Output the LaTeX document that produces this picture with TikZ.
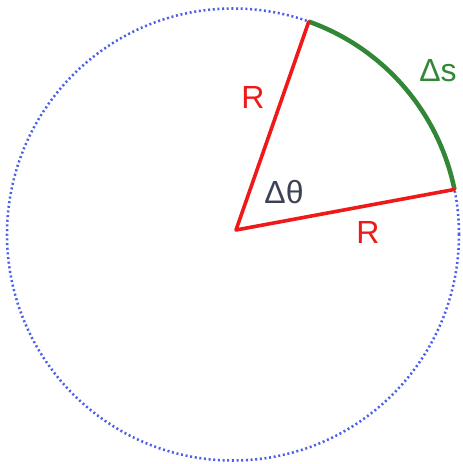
\documentclass[tikz,border=0pt]{standalone}
\usepackage{fontspec}
\setmainfont{Liberation Sans}
\usetikzlibrary{calc}
\definecolor{circblue}{RGB}{75,95,235}
\definecolor{radred}{RGB}{240,25,25}
\definecolor{arcgreen}{RGB}{50,135,55}
\definecolor{anglegray}{RGB}{60,65,85}

\begin{document}
\begin{tikzpicture}[x=0.75pt, y=0.75pt,
  rim/.style={circblue, line width=1.9pt, dash pattern=on 1.5pt off 2.0pt},
  radline/.style={radred, line width=2.7pt, line cap=round, line join=round},
  arcline/.style={arcgreen, line width=3.4pt},
  lbl/.style={font=\fontsize{24}{28}\selectfont, inner sep=0pt}
]
\useasboundingbox (0,0) rectangle (462,464);

% circle and its points
\coordinate (c) at (233,229.5);
\coordinate (o) at (236,234);
\coordinate (a) at ($(c)+(70.4:226)$);
\coordinate (b) at ($(c)+(11.5:226)$);
\draw[rim] (c) circle[radius=226];

% arc and radii
\draw[arcline] (a) arc[start angle=70.4, end angle=11.5, radius=226];
\draw[radline] (a) -- (o) -- (b);

% labels
\node[lbl, radred] (r1) at (253,367) {R};
\node[lbl, radred] (r2) at (368,232) {R};
\node[lbl, anglegray] (dtheta) at (284,272) {Δθ};
\node[lbl, arcgreen] (ds) at (438,393) {Δs};

\end{tikzpicture}
\end{document}
